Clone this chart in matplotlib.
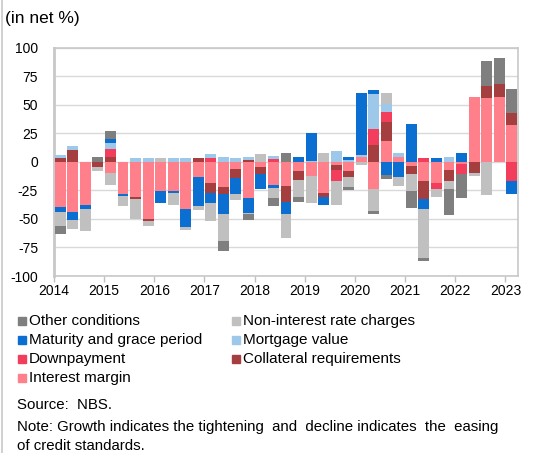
"""Stacked bar chart: factors behind changes in credit standards (net %)."""

import matplotlib
matplotlib.use("Agg")
import matplotlib.pyplot as plt
from matplotlib.patches import Rectangle
import numpy as np

plt.rcParams["font.family"] = ["Liberation Sans", "DejaVu Sans"]
plt.rcParams["axes.unicode_minus"] = False

# quarters 2014Q1 .. 2023Q1
years = [str(y) for y in range(2014, 2024)]

# series in stacking order (closest to zero first)
interest_margin = [-40, -44, -38, 0, -10, -28, -31, -50, -25.5, -25.5, -41, -13, -19, -22, -6.5, -32,
                   -4.5, -20, -21.5, -8, -12.5, -27, -2.5, -8, 4.5, -24, 18, 4, -3.5, -17, -18.5, -7.5,
                   -2, 57, 55.5, 57, 32]
collateral = [3, 10, 0, -5, 4.5, 0, -2, -2, 0, 0, 0, 3, -8, -6.5, -8, 1.5,
              -6.5, 0, -14, -8, 0, -3.5, -5, -5, 0, 15, 16.5, 0, -7.5, -16, 0, -9.5,
              0, -9.5, 10.5, 11, 10.5]
downpayment = [0, 0, 0, 0, 7, 0, 0, 0, 0, 0, 0, 0, 3, 0, 0, 0,
               0, 2, 0, 0, 0, 0, -9.5, 0, 0, 14, 9, 0, 0, 3, -5, 0,
               -9, 0, 0, 0, -17]
mortgage_value = [3, 4, 0, 0, 4.5, 0, 3, 3, 0, 3, 3, 0, 3.5, 4.5, 3, 3,
                  0, 3, 0, 0, 1, 0, 9.5, 1.5, 1.5, 30, 7, 3.5, 0, 0, 0, 4.5,
                  0, 0, 0, 0, 0]
maturity = [-4, -7, -3.5, 0, 4, -2, 0, 0, -11, -2, -16, -26, -9, -17.5, -14, -12.5,
            -13, -3, -10, 4.5, 24, -7, 0, 3, 54, 3.5, -12, -13.5, 33, -8, 3, 0,
            7.5, 0, 0, 0, -11.5]
non_interest = [-12, -8, -19, -3, -10, -8.5, -17, -4.5, 3, -10, -3, -3, -15.5, -23.5, -5, -1.5,
                6.5, -9, -21, -14.5, -23.5, 8, -20.5, -9, -2.5, -19, 10, -8, -14.5, -43, -7, -6.5,
                0, -3, -29, 0, 0]
other = [-7, 0, 0, 4, 7, 0, 0, 0, 0, 0, 0, 0, 0, -9, 0, -5,
         0, -6.5, 8, -5, 0, 0, 0, -3, 0, -3, -3, 0, -15, -3, 0, -23,
         -20.5, 0, 22.5, 22.5, 21]

series_names = ["Interest margin", "Collateral requirements", "Downpayment", "Mortgage value",
                "Maturity and grace period", "Non-interest rate charges", "Other conditions"]
series_values = [interest_margin, collateral, downpayment, mortgage_value, maturity, non_interest, other]
series_colors = ["#ff7f8a", "#a53e3e", "#f23d5c", "#9dc8ea", "#0a6fd0", "#c0c0c0", "#7f7f7f"]


def main():
    fig = plt.figure(figsize=(5.35, 4.53), dpi=100)
    W, H = 535.0, 453.0
    ax = fig.add_axes([54 / W, 1 - 276 / H, (518 - 54) / W, (276 - 47.5) / H])

    n = len(interest_margin)
    x = np.arange(n)
    pos_base = np.zeros(n)
    neg_base = np.zeros(n)
    for vals, col in zip(series_values, series_colors):
        v = np.array(vals, dtype=float)
        pos = np.where(v > 0, v, 0)
        neg = np.where(v < 0, v, 0)
        ax.bar(x, pos, bottom=pos_base, width=0.87, color=col, zorder=3, linewidth=0)
        ax.bar(x, neg, bottom=neg_base, width=0.87, color=col, zorder=3, linewidth=0)
        pos_base += pos
        neg_base += neg

    ax.set_xlim(-0.5, n - 0.5)
    ax.set_ylim(-100, 100)
    ax.set_yticks(np.arange(-100, 101, 25))
    ax.yaxis.grid(True, color="#d9d9d9", linewidth=1.0, zorder=0)
    ax.tick_params(axis="y", length=0, labelsize=10, pad=11.5)

    ax.set_xticks(np.arange(-0.5, n, 4))
    ax.set_xticklabels(years)
    ax.tick_params(axis="x", length=4, width=1, color="#bfbfbf", labelsize=10, pad=2)
    for s in ax.spines.values():
        s.set_color("#c8c8c8")
        s.set_linewidth(1.2)
    ax.spines["left"].set_linewidth(2)

    fig.text(5 / W, 1 - 18 / H, "(in net %)", fontsize=12.5, va="center", ha="left")

    # legend, row-major in reverse stacking order
    order = list(range(len(series_names)))[::-1]
    col_x = [18, 232]
    row_y = [321, 340, 359, 378]
    for i, k in enumerate(order):
        r, c = divmod(i, 2)
        x0, y0 = col_x[c], row_y[r]
        fig.patches.append(Rectangle((x0 / W, 1 - (y0 + 4) / H), 8 / W, 8 / H,
                                     transform=fig.transFigure, color=series_colors[k]))
        fig.text((x0 + 11) / W, 1 - y0 / H, series_names[k], fontsize=11, va="center", ha="left")

    fig.text(17 / W, 1 - 405 / H, "Source:  NBS.", fontsize=10.8, va="center", ha="left")
    fig.text(17 / W, 1 - 427 / H,
             "Note: Growth indicates the tightening  and  decline indicates  the  easing",
             fontsize=10.8, va="center", ha="left")
    fig.text(17 / W, 1 - 446 / H, "of credit standards.", fontsize=10.8, va="center", ha="left")
    fig.add_artist(plt.Line2D([2 / W, 2 / W], [0, 1], color="#c8c8c8", linewidth=1.2))

    fig.savefig("out.png", dpi=100)
    plt.close(fig)


if __name__ == "__main__":
    main()
